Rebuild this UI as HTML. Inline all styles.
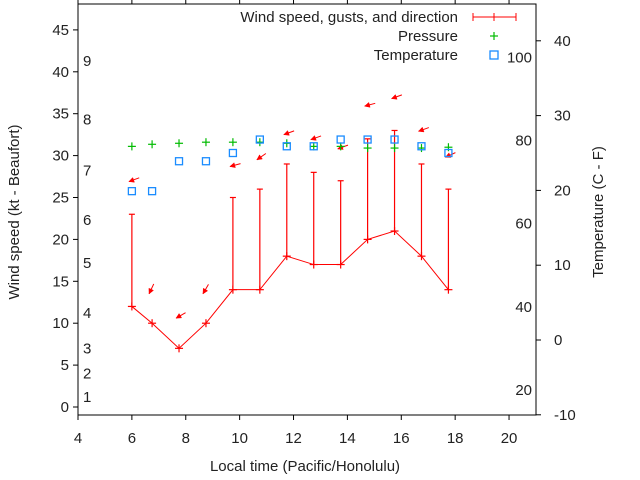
<!DOCTYPE html>
<html><head><meta charset="utf-8"><style>
body{margin:0;background:#fff}
svg{display:block;font-family:"Liberation Sans",sans-serif}
text{font-size:15px;fill:#222}
</style></head><body>
<svg id="chart" width="640" height="480" viewBox="0 0 640 480" xmlns="http://www.w3.org/2000/svg">
<rect x="0" y="0" width="640" height="480" fill="#fff"/>
<g id="axes"></g>
<g id="marks"></g>
<text x="305" y="471" text-anchor="middle">Local time (Pacific/Honolulu)</text>
<text transform="translate(19,212) rotate(-90)" text-anchor="middle">Wind speed (kt - Beaufort)</text>
<text transform="translate(603,212) rotate(-90)" text-anchor="middle">Temperature (C - F)</text>
<g>
<text x="458" y="22" text-anchor="end">Wind speed, gusts, and direction</text>
<g stroke="red" stroke-width="1"><line x1="473" y1="17" x2="516" y2="17"/><line x1="473" y1="13" x2="473" y2="21"/><line x1="516" y1="13" x2="516" y2="21"/><line x1="494" y1="13" x2="494" y2="21"/></g>
<text x="458" y="41" text-anchor="end">Pressure</text>
<g stroke="#00bb00" stroke-width="1.2"><line x1="490" y1="36" x2="498" y2="36"/><line x1="494" y1="32" x2="494" y2="40"/></g>
<text x="458" y="60" text-anchor="end">Temperature</text>
<rect x="490" y="51" width="8" height="8" fill="none" stroke="#1a8cff" stroke-width="1.3"/>
</g>
</svg>
<script>
const times=[6,6.75,7.75,8.75,9.75,10.75,11.75,12.75,13.75,14.75,15.75,16.75,17.75];
const windSpeed=[12,10,7,10,14,14,18,17,17,20,21,18,14];
const windGust=[23,10,7,10,25,26,29,28,27,32,33,29,26];
const windDir=[70,25,60,30,75,55,70,70,70,75,70,70,65];
const arrowLevel=[26.9,13.5,10.6,13.5,28.7,29.5,32.5,31.9,30.8,35.9,36.8,32.9,29.8];
const pressure=[31.1,31.35,31.47,31.6,31.6,31.6,31.47,31.1,31.1,30.9,30.9,30.9,31.0];
const tempC=[19.9,19.9,23.9,23.9,25,26.8,25.9,25.9,26.8,26.8,26.8,25.9,25];
const xTicks=[4,6,8,10,12,14,16,18,20];
const yTicks=[0,5,10,15,20,25,30,35,40,45];
const cTicks=[-10,0,10,20,30,40];
const fTicks=[20,40,60,80,100];
const bftLabels=[1,2,3,4,5,6,7,8,9];
const bftKt=[1.2,4,7,11.2,17.2,22.3,28.2,34.3,41.3];

const X0=78,X1=536,Y0=4,Y1=415;
const xs=t=>78+(t-4)*26.94;
const ys=v=>407-v*8.38;
const yc=c=>340-c*7.48;
const yf=f=>yc((f-32)*5/9);
const NS='http://www.w3.org/2000/svg';
function mk(tag,attrs,parent,txt){const e=document.createElementNS(NS,tag);for(const k in attrs)e.setAttribute(k,attrs[k]);if(txt!==undefined)e.textContent=txt;parent.appendChild(e);return e;}
const ax=document.getElementById('axes'),mg=document.getElementById('marks');
let e=mk('rect',{x:X0,y:Y0,width:X1-X0,height:Y1-Y0,fill:'none',stroke:'#000','stroke-width':1},ax);


xTicks.forEach(t=>{const x=xs(t);
 e=mk('line',{x1:x,y1:Y1,x2:x,y2:Y1+5,stroke:'#000'},ax);
 
 
 e=mk('line',{x1:x,y1:Y0,x2:x,y2:Y0-5,stroke:'#000'},ax);
 
 
 e=mk('text',{x:x,y:443,'text-anchor':'middle'},ax,String(t));
 
 });
yTicks.forEach(v=>{const y=ys(v);
 e=mk('line',{x1:X0-5,y1:y,x2:X0,y2:y,stroke:'#000'},ax);
 
 
 e=mk('text',{x:69,y:y+5,'text-anchor':'end'},ax,String(v));
 
 });
bftLabels.forEach((b,i)=>{
 e=mk('text',{x:83,y:ys(bftKt[i])+5},ax,String(b));
 
 });
cTicks.forEach(c=>{const y=yc(c);
 e=mk('line',{x1:X1,y1:y,x2:X1+5,y2:y,stroke:'#000'},ax);
 
 
 e=mk('text',{x:554,y:y+5},ax,String(c));
 
 });
fTicks.forEach(f=>{
 e=mk('text',{x:532,y:yf(f)+5,'text-anchor':'end'},ax,String(f));
 
 });
// wind line
e=mk('polyline',{points:times.map((t,i)=>xs(t)+','+ys(windSpeed[i])).join(' '),fill:'none',stroke:'red','stroke-width':1},mg);


times.forEach((t,i)=>{const x=xs(t),y=ys(windSpeed[i]),g=ys(windGust[i]);
 const grp=mk('g',{stroke:'red','stroke-width':1.2},mg);
 
 
 mk('line',{x1:x-4,y1:y,x2:x+4,y2:y},grp);mk('line',{x1:x,y1:y-4,x2:x,y2:y+4},grp);
 if(windGust[i]>windSpeed[i]){mk('line',{x1:x,y1:y,x2:x,y2:g},grp);mk('line',{x1:x-3,y1:g,x2:x+3,y2:g},grp);}
 // arrow
 const hx=x-3,hy=ys(arrowLevel[i]),a=windDir[i]*Math.PI/180;
 const dx=Math.sin(a),dy=-Math.cos(a),L=11;
 const tx=hx+dx*L,ty=hy+dy*L;
 const ar=mk('g',{stroke:'red',fill:'red'},mg);
 
 
 mk('line',{x1:tx,y1:ty,x2:hx,y2:hy,'stroke-width':1},ar);
 const px=-dy,py=dx;
 mk('polygon',{points:`${hx},${hy} ${hx+dx*5+px*2.5},${hy+dy*5+py*2.5} ${hx+dx*5-px*2.5},${hy+dy*5-py*2.5}`,'stroke-width':0.5},ar);
 // pressure
 const p=mk('g',{stroke:'#00bb00','stroke-width':1.2},mg);
 
 
 const py2=ys(pressure[i]);
 mk('line',{x1:x-4,y1:py2,x2:x+4,y2:py2},p);mk('line',{x1:x,y1:py2-4,x2:x,y2:py2+4},p);
 // temperature
 const ty2=yc(tempC[i]);
 const s=mk('rect',{x:x-3.5,y:ty2-3.5,width:7,height:7,fill:'none',stroke:'#1a8cff','stroke-width':1.3},mg);
 
 
});
</script>
</body></html>
